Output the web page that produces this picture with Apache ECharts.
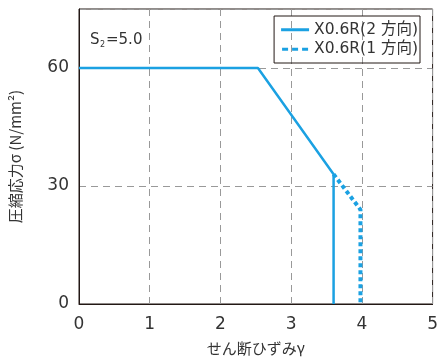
<!DOCTYPE html>
<html><head><meta charset="utf-8">
<script src="https://cdn.jsdelivr.net/npm/echarts@6/dist/echarts.min.js"></script>
<style>html,body{margin:0;padding:0;background:#fff}#c{width:441px;height:361px}</style>
</head><body><div id="c"></div>
<script>
const seriesNames = ['X0.6R(2 方向)', 'X0.6R(1 方向)'];
const twoDir = [[0, 60], [2.53, 60], [3.6, 33], [3.6, 0]];
const oneDir = [[3.6, 33], [3.98, 24], [3.98, 0]];
const xTicks = [0, 1, 2, 3, 4, 5];
const yTicks = [0, 30, 60];
const lineColor = '#1ba1e2';
const font = '"DejaVu Sans", "Noto Sans CJK JP", sans-serif';
const cjk = '"Noto Sans CJK JP", "Noto Sans", sans-serif';

const chart = echarts.init(document.getElementById('c'));
chart.setOption({
  animation: false,
  grid: { left: 78, right: 8, top: 9, bottom: 55, show: true, borderColor: '#231815', borderWidth: 1 },
  legend: {
    data: [
      { name: seriesNames[0], icon: 'path://M0,0H28V3H0Z' },
      { name: seriesNames[1], icon: 'path://M0,0H6V3H0Z M10,0H16V3H10Z M20,0H26V3H20Z' }
    ],
    orient: 'vertical', right: 21, top: 16,
    itemWidth: 28, itemHeight: 3, itemGap: 4,
    borderColor: '#231815', borderWidth: 1, padding: [6, 2, 6, 7],
    textStyle: { fontFamily: font, fontSize: 15.5, color: '#333' }
  },
  xAxis: {
    type: 'value', min: 0, max: 5, interval: 1,
    name: 'せん断ひずみγ', nameLocation: 'middle', nameGap: 37,
    nameTextStyle: { fontFamily: cjk, fontSize: 15, color: '#333' },
    axisLine: { show: true, lineStyle: { color: '#231815' } },
    axisTick: { show: false },
    axisLabel: { fontFamily: font, fontSize: 17, color: '#333', margin: 12,
      formatter: v => xTicks.includes(v) ? String(v) : '' },
    splitLine: { show: true, lineStyle: { color: '#999', type: [7, 5] } }
  },
  yAxis: {
    type: 'value', min: 0, max: 75, interval: 30,
    name: '圧縮応力σ (N/mm²)', nameLocation: 'middle', nameGap: 56,
    nameTextStyle: { fontFamily: cjk, fontSize: 15, color: '#333' },
    axisLine: { show: true, lineStyle: { color: '#231815' } },
    axisTick: { show: false },
    axisLabel: { fontFamily: font, fontSize: 17, color: '#333', margin: 10,
      formatter: v => yTicks.includes(v) ? String(v) : '' },
    splitLine: { show: true, lineStyle: { color: '#999', type: [7, 5] } }
  },
  graphic: [
    { type: 'text', left: 90, top: 33, style: { text: 'S', fontFamily: font, fontSize: 15, fill: '#333' } },
    { type: 'text', left: 100, top: 41, style: { text: '2', fontFamily: font, fontSize: 8, fill: '#333' } },
    { type: 'text', left: 106, top: 33, style: { text: '=5.0', fontFamily: font, fontSize: 15, fill: '#333' } }
  ],
  series: [
    { name: seriesNames[0], type: 'line', data: twoDir, showSymbol: false, symbol: 'none',
      lineStyle: { color: lineColor, width: 2.5 }, itemStyle: { color: lineColor } },
    { name: seriesNames[1], type: 'line', data: oneDir, showSymbol: false, symbol: 'none',
      lineStyle: { color: lineColor, width: 4, type: [4, 3] }, itemStyle: { color: lineColor } }
  ]
});
</script></body></html>
